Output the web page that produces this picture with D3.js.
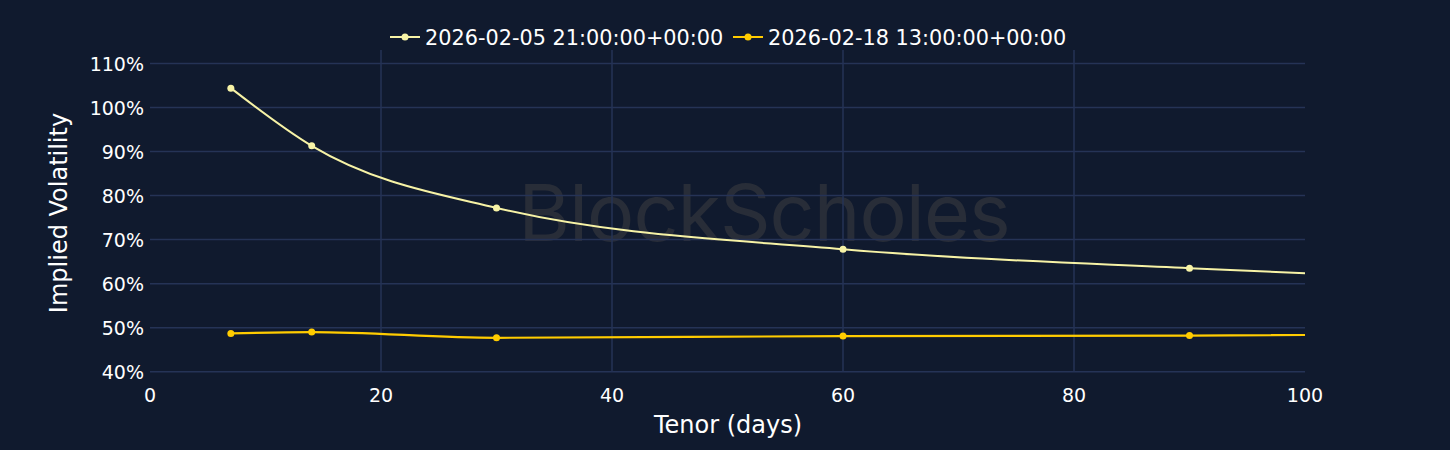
<!DOCTYPE html>
<html><head><meta charset="utf-8">
<script src="https://cdn.jsdelivr.net/npm/d3@7"></script>
<style>
html,body{margin:0;padding:0;background:#101a2e;}
svg{display:block;}
</style></head>
<body>
<script>
const tenors = [7, 14, 30, 60, 90, 180];
const seriesNames = ["2026-02-05 21:00:00+00:00", "2026-02-18 13:00:00+00:00"];
const seriesA = [104.4, 91.3, 77.2, 67.8, 63.5, 58.0];
const seriesB = [48.7, 49.0, 47.7, 48.1, 48.2, 49.8];
const seriesColors = ["#f7f3a6", "#ffcc00"];
const xTicks = [0, 20, 40, 60, 80, 100];
const yTicks = [40, 50, 60, 70, 80, 90, 100, 110];

const W = 1450, H = 450;
const svg = d3.select("body").append("svg").attr("width", W).attr("height", H);
svg.append("rect").attr("width", W).attr("height", H).attr("fill", "#101a2e");

const x = d3.scaleLinear().domain([0, 100]).range([150, 1305]);
const y = d3.scaleLinear().domain([40, 110]).range([371.7, 63.5]);

// watermark
svg.append("text").attr("x", 764).attr("y", 241).attr("text-anchor", "middle")
  .attr("font-family", "Inter, 'Open Sans', sans-serif").attr("font-size", 79).attr("font-weight", 400)
  .attr("fill", "#282d38").attr("letter-spacing", "-1").text("BlockScholes");

// grid
const grid = svg.append("g");
grid.selectAll(".hy").data(yTicks).join("line")
  .attr("x1", 150).attr("x2", 1305).attr("y1", d => y(d)).attr("y2", d => y(d))
  .attr("stroke", "#253356").attr("stroke-width", 1.5);
grid.selectAll(".vx").data(xTicks.filter(d => d > 0 && d < 100)).join("line")
  .attr("x1", d => x(d)).attr("x2", d => x(d)).attr("y1", 50).attr("y2", 371.7)
  .attr("stroke", "#253356").attr("stroke-width", 1.5);

// axes labels
const fontFam = "'DejaVu Sans', Verdana, sans-serif";
svg.append("g").selectAll("text").data(yTicks).join("text")
  .attr("x", 144).attr("y", d => y(d) + 7).attr("text-anchor", "end")
  .attr("font-family", fontFam).attr("font-size", 19).attr("fill", "#ffffff")
  .text(d => d + "%");
svg.append("g").selectAll("text").data(xTicks).join("text")
  .attr("x", d => x(d)).attr("y", 402).attr("text-anchor", "middle")
  .attr("font-family", fontFam).attr("font-size", 19).attr("fill", "#ffffff")
  .text(d => d);

svg.append("text").attr("x", 728).attr("y", 433).attr("text-anchor", "middle")
  .attr("font-family", fontFam).attr("font-size", 24).attr("fill", "#ffffff").text("Tenor (days)");
svg.append("text").attr("transform", "translate(67,213) rotate(-90)").attr("text-anchor", "middle")
  .attr("font-family", fontFam).attr("font-size", 24).attr("fill", "#ffffff").text("Implied Volatility");

// clip
svg.append("clipPath").attr("id", "clip").append("rect")
  .attr("x", 150).attr("y", 50).attr("width", 1155).attr("height", 330);

const series = [seriesA, seriesB];
const line = d3.line().x(d => x(d[0])).y(d => y(d[1])).curve(d3.curveMonotoneX);
const plot = svg.append("g").attr("clip-path", "url(#clip)");
series.forEach((vals, i) => {
  const pts = tenors.map((t, j) => [t, vals[j]]);
  plot.append("path").attr("d", line(pts)).attr("fill", "none")
    .attr("stroke", seriesColors[i]).attr("stroke-width", i === 0 ? 2 : 2.2);
  plot.selectAll(null).data(pts).join("circle")
    .attr("cx", d => x(d[0])).attr("cy", d => y(d[1])).attr("r", 3.5)
    .attr("fill", seriesColors[i]);
});

// legend
const legendX = [390, 733];
seriesNames.forEach((name, i) => {
  const g = svg.append("g").attr("transform", `translate(${legendX[i]},37)`);
  g.append("line").attr("x1", 0).attr("x2", 30).attr("y1", 0).attr("y2", 0)
    .attr("stroke", seriesColors[i]).attr("stroke-width", 2);
  g.append("circle").attr("cx", 15).attr("cy", 0).attr("r", 3.5).attr("fill", seriesColors[i]);
  g.append("text").attr("x", 35).attr("y", 7.5).attr("font-family", fontFam)
    .attr("font-size", 20.8).attr("fill", "#ffffff").text(name);
});
</script>
</body></html>
